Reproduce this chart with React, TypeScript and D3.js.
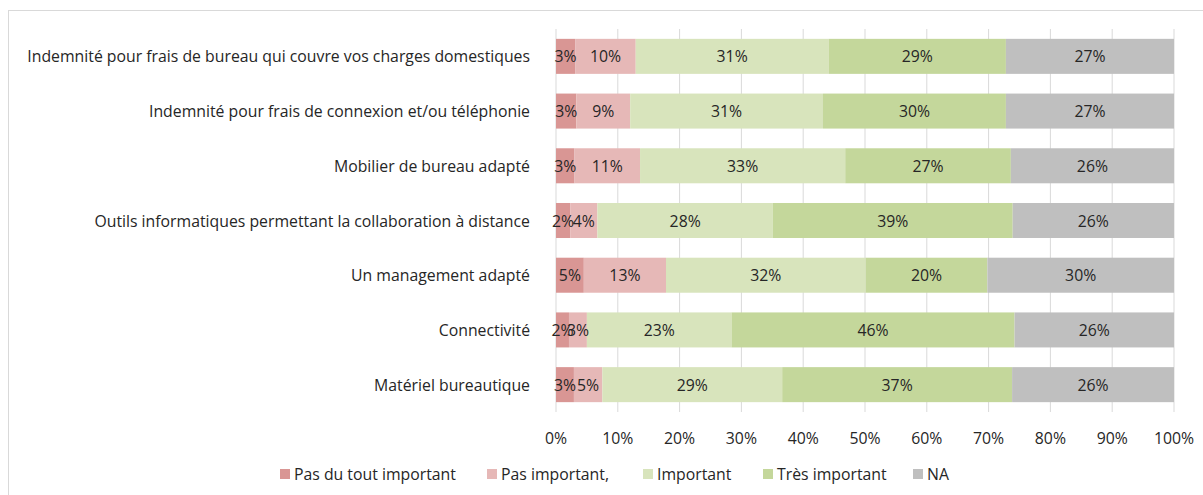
import React from "react";
import * as d3 from "d3";

const categories = [
  "Indemnité pour frais de bureau qui couvre vos charges domestiques",
  "Indemnité pour frais de connexion et/ou téléphonie",
  "Mobilier de bureau adapté",
  "Outils informatiques permettant la collaboration à distance",
  "Un management adapté",
  "Connectivité",
  "Matériel bureautique",
];
const seriesNames = ["Pas du tout important", "Pas important,", "Important", "Très important", "NA"];
const pasDuTout = [3.1, 3.3, 3.0, 2.3, 4.5, 2.1, 2.9];
const pasImportant = [9.8, 8.7, 10.6, 4.4, 13.3, 2.9, 4.6];
const important = [31.2, 31.2, 33.2, 28.4, 32.3, 23.4, 29.1];
const tresImportant = [28.7, 29.6, 26.8, 38.8, 19.7, 45.8, 37.2];
const na = [27.2, 27.2, 26.4, 26.1, 30.2, 25.8, 26.2];
const xTicks = [0, 10, 20, 30, 40, 50, 60, 70, 80, 90, 100];
const colors = ["#D99694", "#E6B8B7", "#D8E4BC", "#C4D79B", "#BFBFBF"];

const FONT = "'Open Sans', sans-serif";
const FS = 15.8;

export default function App() {
  const W = 1203, H = 495;
  const x = d3.scaleLinear().domain([0, 100]).range([556, 1174]);
  const y = d3.scaleBand().domain(categories).range([29, 412]).paddingInner(0.36).paddingOuter(0.18);
  const series = [pasDuTout, pasImportant, important, tresImportant, na];
  const rows = categories.map((c, i) => {
    const obj: any = { cat: c };
    seriesNames.forEach((s, j) => (obj[s] = series[j][i]));
    return obj;
  });
  const stacked = d3.stack().keys(seriesNames)(rows);
  const legendX = [280, 487, 643, 763, 913];

  return (
    <svg width={W} height={H} style={{ position: "absolute", left: 0, top: 0, background: "#fff" }} fontFamily={FONT}>
      <rect x={8.5} y={10.5} width={1200} height={500} fill="none" stroke="#D9D9D9" strokeWidth={1} />
      {xTicks.map((t) => (
        <line key={t} x1={x(t)} x2={x(t)} y1={29} y2={412} stroke="#D9D9D9" strokeWidth={1} />
      ))}
      {stacked.map((s, j) => (
        <g key={s.key}>
          {s.map((d, i) => (
            <rect key={i} x={x(d[0])} y={y(categories[i])} width={x(d[1]) - x(d[0])} height={y.bandwidth()} fill={colors[j]} />
          ))}
        </g>
      ))}
      {stacked.map((s, j) => (
        <g key={"l" + s.key}>
          {s.map((d, i) => (
            <text key={i} x={(x(d[0]) + x(d[1])) / 2} y={(y(categories[i]) as number) + y.bandwidth() / 2}
              textAnchor="middle" dominantBaseline="central" fontSize={FS} fill="#262626">
              {Math.round(d[1] - d[0]) + "%"}
            </text>
          ))}
        </g>
      ))}
      {categories.map((c) => (
        <text key={c} x={530} y={(y(c) as number) + y.bandwidth() / 2} textAnchor="end" dominantBaseline="central" fontSize={FS} fill="#262626">
          {c}
        </text>
      ))}
      {xTicks.map((t) => (
        <text key={"t" + t} x={x(t)} y={438} textAnchor="middle" dominantBaseline="central" fontSize={FS} fill="#262626">
          {t + "%"}
        </text>
      ))}
      {seriesNames.map((s, j) => (
        <g key={"lg" + s}>
          <rect x={legendX[j]} y={469} width={10} height={10} fill={colors[j]} />
          <text x={legendX[j] + 14} y={474} dominantBaseline="central" fontSize={FS} fill="#262626">{s}</text>
        </g>
      ))}
    </svg>
  );
}
